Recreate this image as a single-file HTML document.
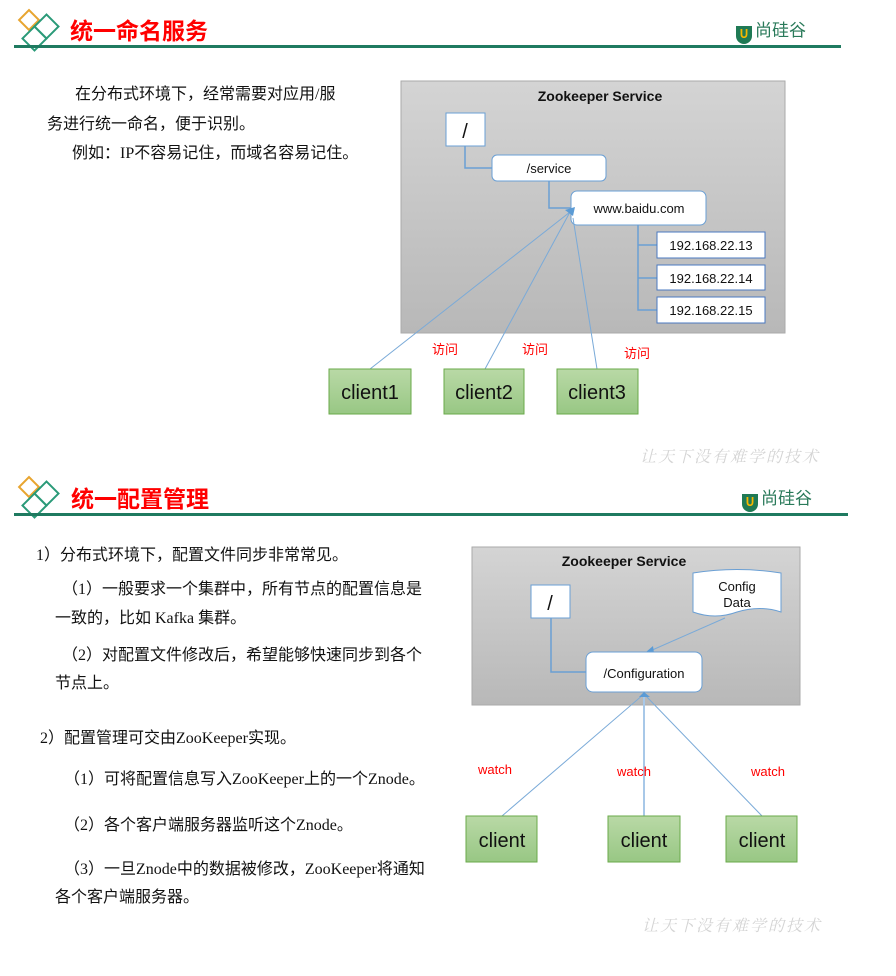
<!DOCTYPE html>
<html><head><meta charset="utf-8"><style>
body{margin:0;width:896px;height:976px;background:#fff;position:relative;overflow:hidden;font-family:"Liberation Serif","Noto Sans CJK SC",serif;}
.t{position:absolute;white-space:nowrap;font-size:16px;line-height:20px;color:#111;}
.h{position:absolute;font-family:"Liberation Sans","Noto Sans CJK SC",sans-serif;font-weight:bold;font-size:23px;line-height:28px;color:#f00;}
.wm{position:absolute;font-family:"Noto Serif CJK SC",serif;font-size:16px;color:#d4d4d4;letter-spacing:2px;font-style:italic;}
.logo{position:absolute;font-family:"Noto Sans CJK SC",sans-serif;font-size:17px;color:#2a7a5a;}
.logo b{display:inline-block;width:16px;height:18px;border-radius:0 0 9px 9px;background:#1f7a55;color:#f5b800;font-size:12px;text-align:center;line-height:16px;vertical-align:-2px;margin-right:3px;}
svg{position:absolute;left:0;top:0;}
</style></head><body>
<svg width="896" height="976" font-family="Liberation Sans, Noto Sans CJK SC, sans-serif">
<defs>
<linearGradient id="g" x1="0" y1="0" x2="0" y2="1"><stop offset="0" stop-color="#d4d4d4"/><stop offset="1" stop-color="#b8b8b8"/></linearGradient>
<linearGradient id="cg" x1="0" y1="0" x2="0" y2="1"><stop offset="0" stop-color="#b9d9a6"/><stop offset="1" stop-color="#98c784"/></linearGradient>
</defs>
<g fill="none" stroke-width="2">
<rect x="22" y="13" width="14" height="14" transform="rotate(45 29 20)" stroke="#e8a530"/>
<rect x="38" y="18" width="17" height="17" transform="rotate(45 46.5 26.5)" stroke="#2a9a78"/>
<rect x="26" y="30" width="17" height="17" transform="rotate(45 34.5 38.5)" stroke="#2a9a78"/>
<rect x="22" y="480" width="14" height="14" transform="rotate(45 29 487)" stroke="#e8a530"/>
<rect x="38" y="485" width="17" height="17" transform="rotate(45 46.5 493.5)" stroke="#2a9a78"/>
<rect x="26" y="497" width="17" height="17" transform="rotate(45 34.5 505.5)" stroke="#2a9a78"/>
</g>
<rect x="14" y="45" width="827" height="3" fill="#1f7a60"/>
<rect x="14" y="513" width="834" height="3" fill="#1f7a60"/>

<rect x="401" y="81" width="384" height="252" fill="url(#g)" stroke="#aaa"/>
<text x="600" y="101" text-anchor="middle" font-size="14" font-weight="bold" fill="#111">Zookeeper Service</text>
<g fill="none" stroke="#6a9fd4" stroke-width="1.5">
<polyline points="465,146 465,168 492,168"/>
<polyline points="549,181 549,208 571,208"/>
<polyline points="638,225 638,310 657,310"/>
<line x1="638" y1="245" x2="657" y2="245"/><line x1="638" y1="278" x2="657" y2="278"/>
</g>
<rect x="446" y="113" width="39" height="33" fill="#fff" stroke="#6a9fd4"/>
<text x="465" y="138" text-anchor="middle" font-size="20" fill="#111">/</text>
<rect x="492" y="155" width="114" height="26" rx="5" fill="#fff" stroke="#6a9fd4"/>
<text x="549" y="173" text-anchor="middle" font-size="13" fill="#111">/service</text>
<rect x="571" y="191" width="135" height="34" rx="6" fill="#fff" stroke="#6a9fd4"/>
<text x="639" y="213" text-anchor="middle" font-size="13" fill="#111">www.baidu.com</text>
<g font-size="13" fill="#111" text-anchor="middle">
<rect x="657" y="232" width="108" height="26" fill="#fff" stroke="#4a78c0"/><text x="711" y="250">192.168.22.13</text>
<rect x="657" y="265" width="108" height="25" fill="#fff" stroke="#4a78c0"/><text x="711" y="283">192.168.22.14</text>
<rect x="657" y="297" width="108" height="26" fill="#fff" stroke="#4a78c0"/><text x="711" y="315">192.168.22.15</text>
</g>
<g stroke="#7aaad8" stroke-width="1">
<line x1="370" y1="369" x2="570" y2="212"/>
<line x1="485" y1="369" x2="570" y2="212"/>
<line x1="597" y1="369" x2="573" y2="218"/>
</g>
<polygon points="565,210 575,207 573,216" fill="#5b9bd5"/>
<g font-size="20" fill="#111" text-anchor="middle">
<rect x="329" y="369" width="82" height="45" fill="url(#cg)" stroke="#6aaa4a"/><text x="370" y="399">client1</text>
<rect x="444" y="369" width="80" height="45" fill="url(#cg)" stroke="#6aaa4a"/><text x="484" y="399">client2</text>
<rect x="557" y="369" width="81" height="45" fill="url(#cg)" stroke="#6aaa4a"/><text x="597" y="399">client3</text>
</g>
<g font-size="13" fill="#f00" font-family="Noto Sans CJK SC, sans-serif">
<text x="432" y="354">访问</text><text x="522" y="354">访问</text><text x="624" y="358">访问</text>
</g>

<rect x="472" y="547" width="328" height="158" fill="url(#g)" stroke="#aaa"/>
<text x="624" y="566" text-anchor="middle" font-size="14" font-weight="bold" fill="#111">Zookeeper Service</text>
<polyline points="551,618 551,672 586,672" fill="none" stroke="#6a9fd4" stroke-width="1.5"/>
<rect x="531" y="585" width="39" height="33" fill="#fff" stroke="#6a9fd4"/>
<text x="550" y="610" text-anchor="middle" font-size="20" fill="#111">/</text>
<path d="M693,573 Q737,566 781,573 L781,612 Q760,605 737,612 Q715,620 693,612 Z" fill="#fff" stroke="#6a9fd4"/>
<text x="737" y="591" text-anchor="middle" font-size="13" fill="#111">Config</text>
<text x="737" y="607" text-anchor="middle" font-size="13" fill="#111">Data</text>
<line x1="725" y1="618" x2="650" y2="651" stroke="#7aaad8"/>
<polygon points="646,652 653,646 654,653" fill="#5b9bd5"/>
<rect x="586" y="652" width="116" height="40" rx="7" fill="#fff" stroke="#6a9fd4"/>
<text x="644" y="678" text-anchor="middle" font-size="13" fill="#111">/Configuration</text>
<g stroke="#7aaad8">
<line x1="502" y1="816" x2="644" y2="694"/>
<line x1="644" y1="816" x2="644" y2="694" stroke-width="2" stroke="#a8c8e8"/>
<line x1="762" y1="816" x2="644" y2="694"/>
</g>
<polygon points="639,697 644,692 650,697" fill="#5b9bd5"/>
<g font-size="20" fill="#111" text-anchor="middle">
<rect x="466" y="816" width="71" height="46" fill="url(#cg)" stroke="#6aaa4a"/><text x="502" y="847">client</text>
<rect x="608" y="816" width="72" height="46" fill="url(#cg)" stroke="#6aaa4a"/><text x="644" y="847">client</text>
<rect x="726" y="816" width="71" height="46" fill="url(#cg)" stroke="#6aaa4a"/><text x="762" y="847">client</text>
</g>
<g font-size="13" fill="#f00">
<text x="478" y="774">watch</text><text x="617" y="776">watch</text><text x="751" y="776">watch</text>
</g>
</svg>

<div class="h" style="left:70px;top:17px;">统一命名服务</div>
<div class="h" style="left:71px;top:485px;">统一配置管理</div>
<div class="logo" style="left:736px;top:16px;"><b>U</b>尚硅谷</div>
<div class="logo" style="left:742px;top:484px;"><b>U</b>尚硅谷</div>
<div class="wm" style="left:640px;top:444px;">让天下没有难学的技术</div>
<div class="wm" style="left:642px;top:913px;">让天下没有难学的技术</div>

<div class="t" style="left:75px;top:85px;">在分布式环境下，经常需要对应用/服</div>
<div class="t" style="left:47px;top:115px;">务进行统一命名，便于识别。</div>
<div class="t" style="left:72px;top:144px;">例如：IP不容易记住，而域名容易记住。</div>

<div class="t" style="left:36px;top:546px;">1）分布式环境下，配置文件同步非常常见。</div>
<div class="t" style="left:62px;top:580px;">（1）一般要求一个集群中，所有节点的配置信息是</div>
<div class="t" style="left:55px;top:609px;">一致的，比如 Kafka 集群。</div>
<div class="t" style="left:62px;top:646px;">（2）对配置文件修改后，希望能够快速同步到各个</div>
<div class="t" style="left:55px;top:674px;">节点上。</div>
<div class="t" style="left:40px;top:729px;">2）配置管理可交由ZooKeeper实现。</div>
<div class="t" style="left:64px;top:770px;">（1）可将配置信息写入ZooKeeper上的一个Znode。</div>
<div class="t" style="left:64px;top:816px;">（2）各个客户端服务器监听这个Znode。</div>
<div class="t" style="left:64px;top:860px;">（3）一旦Znode中的数据被修改，ZooKeeper将通知</div>
<div class="t" style="left:55px;top:888px;">各个客户端服务器。</div>
</body></html>
